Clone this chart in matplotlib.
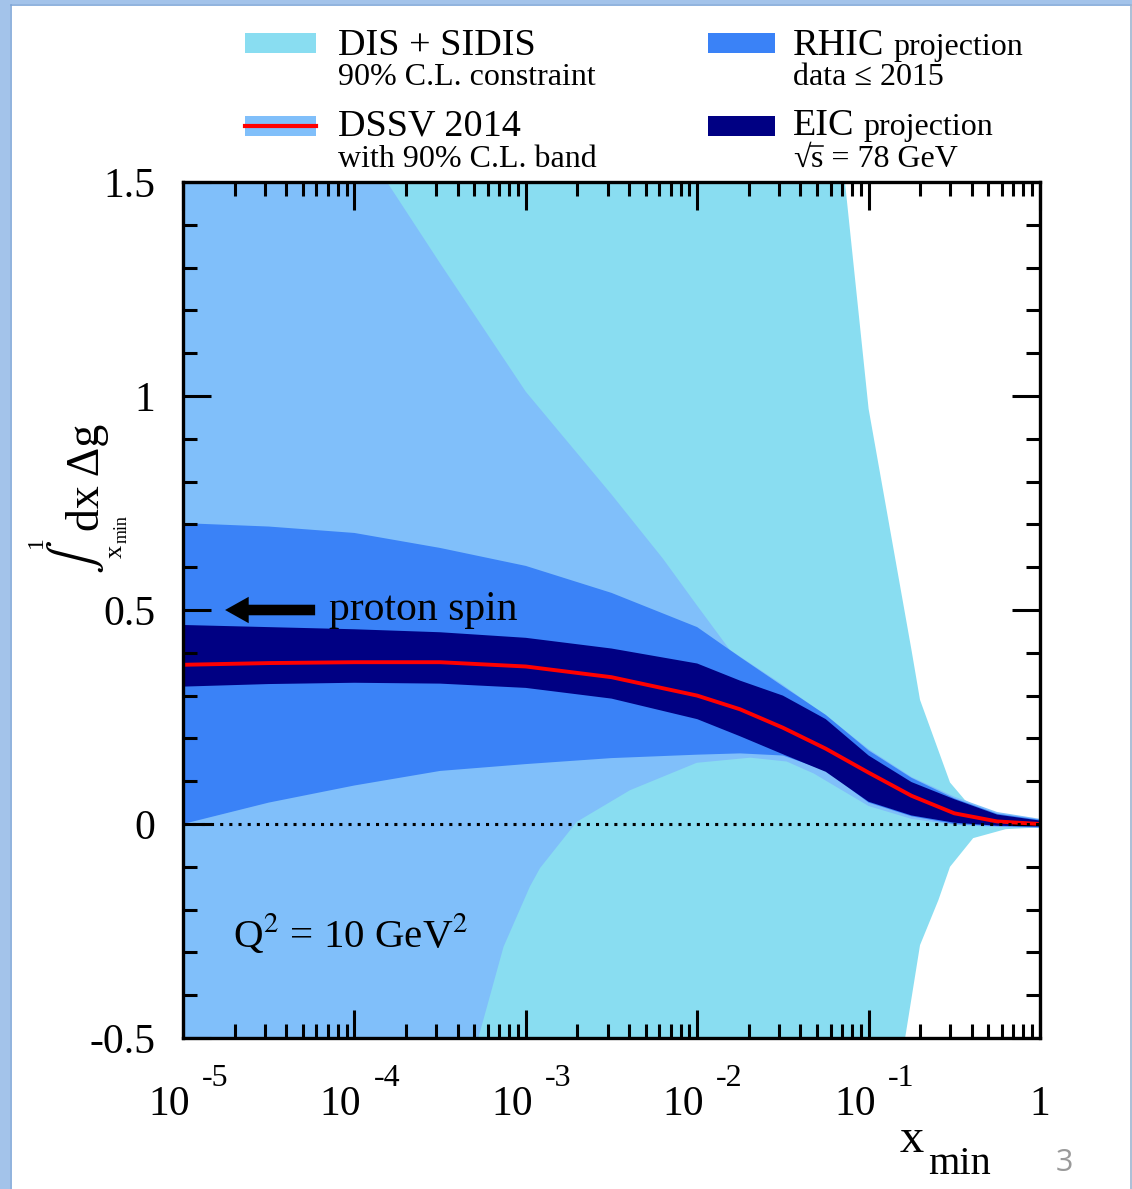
import numpy as np
import matplotlib
matplotlib.use("Agg")
import matplotlib.pyplot as plt
from matplotlib.patches import Rectangle, FancyArrowPatch
from matplotlib.lines import Line2D
from matplotlib.transforms import offset_copy
from matplotlib.ticker import LogLocator, MultipleLocator, NullFormatter, FixedLocator

plt.rcParams["font.family"] = ["Liberation Serif", "DejaVu Serif"]
plt.rcParams["mathtext.fontset"] = "stix"
plt.rcParams["axes.unicode_minus"] = False

# ── Data (log10 of x_min, value of the truncated integral) ─────────────────
dis_upper_lx = [-5, -1.25, -1.138, -1.0, -0.75, -0.70, -0.525, -0.438, -0.29, -0.1, 0]
dis_upper    = [3.0, 1.93, 1.5, 0.97, 0.407, 0.29, 0.097, 0.056, 0.025, 0.009, 0.008]
dis_lower_lx = [-5, -0.85, -0.787, -0.70, -0.593, -0.525, -0.39, -0.2, 0]
dis_lower    = [-3.0, -0.75, -0.5, -0.283, -0.178, -0.10, -0.033, -0.012, -0.008]

dssv_upper_lx = [-5, -4.5, -4, -3.81, -3.5, -3, -2.5, -2.2, -2, -1.81, -1.5, -1.24,
                 -1, -0.75, -0.5, -0.25, 0]
dssv_upper    = [2.24, 1.93, 1.62, 1.5, 1.31, 1.01, 0.77, 0.62, 0.51, 0.407, 0.325, 0.25,
                 0.175, 0.11, 0.064, 0.028, 0.012]
dssv_lower_lx = [-5, -4, -3.5, -3.277, -3.13, -2.976, -2.917, -2.703, -2.392, -2.003,
                 -1.69, -1.478, -1.32, -1.0, -0.75, -0.5, -0.25, 0]
dssv_lower    = [-1.6, -1.1, -0.78, -0.5, -0.287, -0.146, -0.103, 0.005, 0.079, 0.143,
                 0.155, 0.146, 0.118, 0.042, 0.012, -0.002, -0.007, -0.009]

band_lx      = [-5, -4.5, -4, -3.5, -3, -2.5, -2, -1.75, -1.5, -1.25, -1, -0.75, -0.5, -0.25, 0]
rhic_upper   = [0.703, 0.695, 0.68, 0.645, 0.603, 0.54, 0.46, 0.39, 0.322, 0.255, 0.172, 0.108, 0.06, 0.024, 0.01]
rhic_lower   = [0.0, 0.05, 0.09, 0.124, 0.14, 0.154, 0.162, 0.165, 0.16, 0.125, 0.05, 0.018, 0.0, -0.005, -0.008]
eic_upper    = [0.465, 0.46, 0.455, 0.448, 0.435, 0.41, 0.375, 0.335, 0.30, 0.245, 0.16, 0.098, 0.058, 0.022, 0.008]
eic_lower    = [0.321, 0.327, 0.33, 0.328, 0.318, 0.293, 0.245, 0.205, 0.163, 0.122, 0.052, 0.02, 0.003, -0.004, -0.006]
dssv_central = [0.372, 0.376, 0.378, 0.378, 0.368, 0.343, 0.30, 0.268, 0.225, 0.176, 0.12, 0.066, 0.025, 0.006, 0.0]

decades = [-5, -4, -3, -2, -1]

C_DIS  = "#89DDF1"
C_DSSV = "#80BFFA"
C_RHIC = "#3A82F7"
C_EIC  = "#000083"

W, H = 1132, 1189


def fx(x):
    return x / W


def fy(y):
    return 1 - y / H


def band(ax, lx_up, up, lx_lo, lo, color):
    xs = np.concatenate([10.0 ** np.array(lx_up), 10.0 ** np.array(lx_lo)[::-1]])
    ys = np.concatenate([np.array(up), np.array(lo)[::-1]])
    ax.fill(xs, ys, color=color, lw=0, zorder=1)


def vtext(x, y, s, size, **kw):
    """Text rotated by 90 degrees, centred on a pixel position."""
    return fig.text(fx(x), fy(y), s, fontsize=size, rotation=90, rotation_mode="anchor",
                    ha="center", va="center", **kw)


fig = plt.figure(figsize=(W / 100, H / 100), dpi=100)
fig.patch.set_facecolor("white")

# slide frame
fig.add_artist(Rectangle((0, 0), fx(10), 1, transform=fig.transFigure,
                         color="#A3C3EA", lw=0))
fig.add_artist(Rectangle((0, fy(4)), 1, 4 / H, transform=fig.transFigure,
                         color="#A3C3EA", lw=0))
fig.add_artist(Line2D([fx(10.5), fx(10.5)], [0, fy(4.5)], transform=fig.transFigure,
                      color="#7DA5D8", lw=1.2))
fig.add_artist(Line2D([fx(10.5), fx(1130.5)], [fy(4.5), fy(4.5)], transform=fig.transFigure,
                      color="#7DA5D8", lw=1.2))
fig.add_artist(Line2D([fx(1130.5), fx(1130.5)], [0, fy(4.5)], transform=fig.transFigure,
                      color="#9DB4D0", lw=1.2))

ax = fig.add_axes([fx(183), fy(1038), (1040 - 183) / W, (1038 - 182) / H])
ax.set_xscale("log")
ax.set_xlim(1e-5, 1)
ax.set_ylim(-0.5, 1.5)

band(ax, dis_upper_lx, dis_upper, dis_lower_lx, dis_lower, C_DIS)
band(ax, dssv_upper_lx, dssv_upper, dssv_lower_lx, dssv_lower, C_DSSV)
band(ax, band_lx, rhic_upper, band_lx, rhic_lower, C_RHIC)
band(ax, band_lx, eic_upper, band_lx, eic_lower, C_EIC)
ax.plot(10.0 ** np.array(band_lx), dssv_central, color="red", lw=2.8, zorder=3)
ax.plot([1e-5, 1], [0, 0], color="black", lw=2.2, ls=(0, (1, 2)), zorder=4)

# ticks
ax.xaxis.set_major_locator(FixedLocator([10.0 ** d for d in decades] + [1.0]))
ax.xaxis.set_minor_locator(LogLocator(base=10, subs=np.arange(2, 10), numticks=20))
ax.xaxis.set_major_formatter(NullFormatter())
ax.xaxis.set_minor_formatter(NullFormatter())
ax.yaxis.set_minor_locator(MultipleLocator(0.1))
ax.set_yticks([-0.5, 0, 0.5, 1, 1.5])
ax.set_yticklabels(["-0.5", "0", "0.5", "1", "1.5"])
ax.tick_params(which="both", direction="in", top=True, right=True, width=2.2)
ax.tick_params(which="major", length=20)
ax.tick_params(which="minor", length=10)
ax.tick_params(axis="y", which="major", labelsize=30, pad=20)
for sp in ax.spines.values():
    sp.set_linewidth(2.4)
    sp.set_zorder(5)

# x tick labels in ROOT style: "10" with raised exponent
for d in decades:
    tr = offset_copy(ax.get_xaxis_transform(), fig=fig, x=7, y=-77, units="dots")
    ax.text(10.0 ** d, 0, "10", transform=tr, ha="right", va="baseline", fontsize=30)
    tr = offset_copy(ax.get_xaxis_transform(), fig=fig, x=19, y=-48, units="dots")
    ax.text(10.0 ** d, 0, str(d), transform=tr, ha="left", va="baseline", fontsize=23)
tr = offset_copy(ax.get_xaxis_transform(), fig=fig, x=0, y=-77, units="dots")
ax.text(1.0, 0, "1", transform=tr, ha="center", va="baseline", fontsize=30)

# axis titles
fig.text(fx(900), fy(1152), "x", fontsize=35, ha="left", va="baseline")
fig.text(fx(928), fy(1174), "min", fontsize=29, ha="left", va="baseline")

fig.text(fx(99), fy(531), "dx Δg", fontsize=33, rotation=90, rotation_mode="anchor",
         ha="left", va="baseline")
vtext(75, 557, r"$\int$", 36)
vtext(36, 542, "1", 17)
vtext(116, 551, "x", 19)
vtext(122, 529, "min", 13)

# annotations
arrow = FancyArrowPatch((5.9e-5, 0.5), (1.76e-5, 0.5),
                        arrowstyle="simple,head_width=0.95,head_length=0.85,tail_width=0.38",
                        mutation_scale=20, color="black", lw=0, zorder=6,
                        shrinkA=0, shrinkB=0)
ax.add_patch(arrow)
ax.text(7.1e-5, 0.477, "proton spin", fontsize=30, ha="left", va="baseline", zorder=6)
ax.text(1.96e-5, -0.287, r"Q$^{2}$ = 10 GeV$^{2}$", fontsize=29.5, ha="left",
        va="baseline", zorder=6)

# legend
def swatch(x0, y0, x1, y1, color):
    fig.add_artist(Rectangle((fx(x0), fy(y1)), (x1 - x0) / W, (y1 - y0) / H,
                             transform=fig.transFigure, color=color, lw=0))

swatch(245, 33, 316, 53, C_DIS)
swatch(245, 116, 316, 136, C_DSSV)
fig.add_artist(Line2D([fx(245), fx(316)], [fy(126), fy(126)], transform=fig.transFigure,
                      color="red", lw=3))
swatch(708, 33, 775, 53, C_RHIC)
swatch(708, 116, 775, 136, C_EIC)

fig.text(fx(338), fy(55), "DIS + SIDIS", fontsize=27.5, va="baseline")
fig.text(fx(338), fy(85), "90% C.L. constraint", fontsize=23, va="baseline")
fig.text(fx(338), fy(135), "DSSV 2014", fontsize=27.5, va="baseline")
fig.text(fx(338), fy(167), "with 90% C.L. band", fontsize=23, va="baseline")

renderer = fig.canvas.get_renderer()
for big, base in [("RHIC", 55), ("EIC", 135)]:
    t = fig.text(fx(793), fy(base), big, fontsize=27.5, va="baseline")
    ext = t.get_window_extent(renderer)
    fig.text(ext.x1 / W + fx(9), fy(base), "projection", fontsize=23, va="baseline")
fig.text(fx(793), fy(85), "data ≤ 2015", fontsize=23, va="baseline")

# sqrt(s) with an overline over the s
t_root = fig.text(fx(793), fy(167), "√", fontsize=23, va="baseline")
ext_root = t_root.get_window_extent(renderer)
t_rest = fig.text(ext_root.x1 / W, fy(167), "s = 78 GeV", fontsize=23, va="baseline")
t_s = fig.text(0, 0, "s", fontsize=23, va="baseline")
s_w = t_s.get_window_extent(renderer).width
t_s.remove()
fig.add_artist(Line2D([ext_root.x1 / W - fx(1), ext_root.x1 / W + s_w / W],
                      [ext_root.y1 / H - 1.2 / H, ext_root.y1 / H - 1.2 / H],
                      transform=fig.transFigure, color="black", lw=1.1))

# page number
fig.text(fx(1056), fy(1171), "3", fontsize=22, color="#9A9A9A", family="Open Sans",
         va="baseline")

fig.savefig("out.png", dpi=100)
